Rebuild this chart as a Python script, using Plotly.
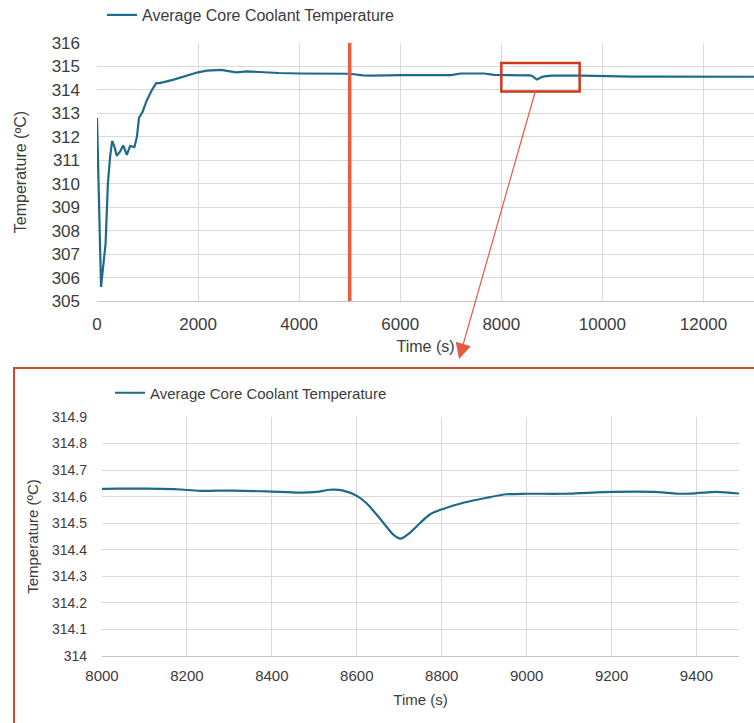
import plotly.graph_objects as go

# Average core coolant temperature, full transient (s, degC)
time_early = [0, 80, 170, 215, 260, 300, 345, 390, 455, 520, 590, 655, 740, 790,
              830, 905, 975, 1070, 1170, 1240, 1500, 1770, 2000, 2170, 2360, 2460,
              2630, 2760, 2960, 3220, 3600, 4000, 4600, 5000, 5260, 5460, 6000,
              6600, 7000, 7200, 7460, 7660, 7860]
temp_early = [312.80, 305.60, 307.45, 310.00, 311.16, 311.83, 311.58, 311.19, 311.37,
              311.63, 311.23, 311.61, 311.56, 312.00, 312.80, 313.08, 313.50, 313.93,
              314.29, 314.29, 314.43, 314.60, 314.75, 314.82, 314.86, 314.85, 314.79,
              314.75, 314.79, 314.75, 314.72, 314.70, 314.69, 314.69, 314.62, 314.61,
              314.63, 314.62, 314.63, 314.70, 314.71, 314.70, 314.64]

# Detail of the event window 8000-9500 s
time_event = [8000, 8035, 8100, 8176, 8231, 8309, 8388, 8467, 8506, 8537, 8568, 8600,
              8623, 8663, 8686, 8703, 8725, 8749, 8772, 8800, 8851, 8906, 8953, 9000,
              9086, 9204, 9298, 9361, 9400, 9447, 9500]
temp_event = [314.629, 314.630, 314.630, 314.628, 314.622, 314.623, 314.620, 314.615,
              314.618, 314.626, 314.623, 314.603, 314.575, 314.501, 314.457, 314.442,
              314.464, 314.501, 314.533, 314.552, 314.577, 314.596, 314.609, 314.611,
              314.611, 314.618, 314.618, 314.611, 314.613, 314.618, 314.612]

time_late = [9600, 10050, 10580, 11240, 12040, 13000]
temp_late = [314.61, 314.59, 314.57, 314.57, 314.57, 314.56]

series_name = "Average Core Coolant Temperature"
event_time = 5000
zoom_window = (8000, 9550, 313.93, 315.15)

W, H = 754, 723
LINE = "#1f6a8a"
GRID = "#d9d9d9"
AXIS = "#c4c4c4"
TEXT = "#3c3c3c"
FONT = "Liberation Sans, Arial, sans-serif"


def fx(p):
    return p / W


def fy(p):
    return 1 - p / H


overview_time = time_early + time_event + time_late
overview_temp = temp_early + temp_event + temp_late

fig = go.Figure()
fig.add_trace(go.Scatter(
    x=overview_time, y=overview_temp, mode="lines", name=series_name,
    line=dict(color=LINE, width=2.2), xaxis="x", yaxis="y", legend="legend",
))
fig.add_trace(go.Scatter(
    x=time_event, y=temp_event, mode="lines", name=series_name,
    line=dict(color=LINE, width=2.2, shape="spline", smoothing=0.8),
    xaxis="x2", yaxis="y2", legend="legend2",
))

axis_common = dict(
    showgrid=True, gridcolor=GRID, gridwidth=1, zeroline=False, automargin=False,
    ticks="", tickformat="d",
)

fig.update_layout(
    template="none",
    width=W, height=H, margin=dict(l=0, r=0, t=0, b=0, autoexpand=False),
    paper_bgcolor="white", plot_bgcolor="white",
    font=dict(family=FONT, color=TEXT),
    xaxis=dict(
        domain=[fx(97), 1], range=[0, 13000], dtick=2000, tick0=0, anchor="y",
        showline=True, linecolor=AXIS, linewidth=1, ticklabelstandoff=8,
        tickfont=dict(family=FONT, size=17, color=TEXT),
        title=dict(text="Time (s)", font=dict(size=16), standoff=7),
        **axis_common,
    ),
    yaxis=dict(
        domain=[fy(301), fy(43)], range=[305, 316], dtick=1, anchor="x",
        showline=False, ticklabelstandoff=16,
        tickfont=dict(family=FONT, size=17, color=TEXT),
        title=dict(text="Temperature (ºC)", font=dict(size=16), standoff=21),
        **axis_common,
    ),
    xaxis2=dict(
        domain=[fx(102), fx(739)], range=[8000, 9500], dtick=200, tick0=8000, anchor="y2",
        showline=True, linecolor=AXIS, linewidth=1, ticklabelstandoff=6,
        tickfont=dict(family=FONT, size=15, color=TEXT),
        title=dict(text="Time (s)", font=dict(size=15), standoff=11),
        **axis_common,
    ),
    yaxis2=dict(
        domain=[fy(656), fy(417)], range=[314, 314.9], dtick=0.1, anchor="x2",
        showline=False, ticklabelstandoff=14,
        tickfont=dict(family=FONT, size=14, color=TEXT),
        title=dict(text="Temperature (ºC)", font=dict(size=15), standoff=9),
        **{**axis_common, "tickformat": ""},
    ),
    legend=dict(
        x=fx(102), y=fy(15), xanchor="left", yanchor="middle",
        font=dict(family=FONT, size=16, color=TEXT), bgcolor="rgba(0,0,0,0)",
    ),
    legend2=dict(
        x=fx(110), y=fy(393), xanchor="left", yanchor="middle",
        font=dict(family=FONT, size=15, color=TEXT), bgcolor="rgba(0,0,0,0)",
    ),
    showlegend=True,
    shapes=[
        # marker for the event start
        dict(type="line", xref="x", yref="y domain", x0=event_time, x1=event_time,
             y0=0, y1=1, line=dict(color="#ee5a3c", width=3.5)),
        # window that is enlarged below
        dict(type="rect", xref="x", yref="y", x0=zoom_window[0], x1=zoom_window[1],
             y0=zoom_window[2], y1=zoom_window[3],
             line=dict(color="#cc3a1c", width=2.5)),
        # frame around the enlarged view
        dict(type="rect", xref="paper", yref="paper", x0=fx(14), x1=1.02,
             y0=-0.02, y1=fy(368), line=dict(color="#d6462a", width=2)),
    ],
    annotations=[
        dict(xref="paper", yref="paper", x=fx(459), y=fy(359), ax=77, ay=-270,
             text="", showarrow=True, arrowhead=2, arrowsize=2.6, arrowwidth=1.2,
             arrowcolor="#e8583e", startstandoff=0, standoff=0),
    ],
)

fig.write_html("out.html", config={"displayModeBar": False})
